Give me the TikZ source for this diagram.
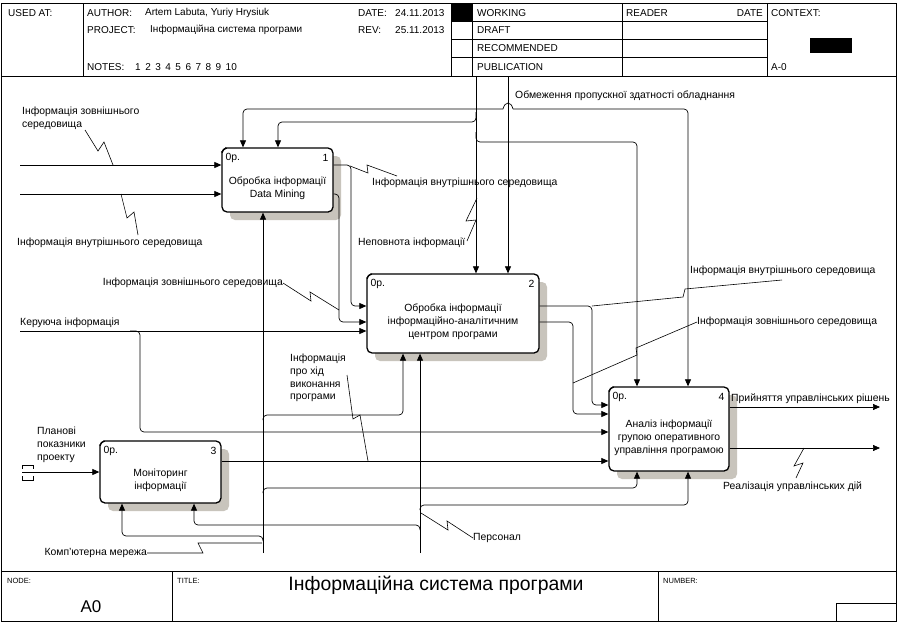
\documentclass[tikz,border=0pt]{standalone}
\usepackage{fontspec}
\setmainfont{Liberation Sans}
\usetikzlibrary{positioning,arrows.meta,shadows}
\definecolor{shade}{RGB}{200,196,188}
\newcommand{\lbl}{\fontsize{10.4}{12.8}\selectfont}
\newcommand{\hdr}{\fontsize{10}{12}\selectfont}
\newcommand{\ftr}{\fontsize{7.5}{9}\selectfont}

\begin{document}
\begin{tikzpicture}[x=1pt,y=-1pt,
  fn/.style={draw,line width=1.3pt,rounded corners=5pt,fill=white,
    general shadow={fill=shade,shadow xshift=8pt,shadow yshift=-8pt}},
  txt/.style={font=\lbl,align=center,inner sep=0pt},
  tag/.style={font=\lbl,inner sep=0pt},
  cell/.style={font=\hdr,anchor=west,inner sep=0pt},
  arr/.style={line width=0.7pt,rounded corners=4pt,-{Triangle[length=7pt,width=6pt]}},
  ln/.style={line width=0.7pt},
  sq/.style={line width=0.6pt}]
\useasboundingbox (0,0) rectangle (897,624);
\fill[white] (0,0) rectangle (897,624);

\draw[line width=0.8pt] (1,3) rectangle (896,621);
\draw[line width=0.8pt] (1,76) -- (896,76) (1,571) -- (896,571);
\draw[ln] (83,3) -- (83,76) (451,3) -- (451,76) (472,3) -- (472,76)
  (622,3) -- (622,76) (767,3) -- (767,76);
\draw[ln] (451,21) -- (767,21) (451,39) -- (767,39) (451,57) -- (767,57);
\fill (451,3) rectangle (472,21);
\fill (810,38) rectangle (852,53);
\draw[ln] (172,571) -- (172,621) (658,571) -- (658,621);
\draw[ln] (836,621) |- (896,603);

\node[cell] (usedat) at (8,13) {USED AT:};
\node[cell] (author) at (87,13) {AUTHOR:};
\node[cell] (authorval) at (145,13) {Artem Labuta, Yuriy Hrysiuk};
\node[cell] (project) at (87,30) {PROJECT:};
\node[cell] (projectval) at (150,30) {Інформаційна система програми};
\node[cell] (notes) at (87,67) {NOTES:};
\node[cell] (notesval) at (135,67) {1\hspace{4.5pt}2\hspace{4.5pt}3\hspace{4.5pt}4\hspace{4.5pt}5\hspace{4.5pt}6\hspace{4.5pt}7\hspace{4.5pt}8\hspace{4.5pt}9\hspace{4.5pt}10};
\node[cell] (datelbl) at (358,13) {DATE:};
\node[cell] (dateval) at (395,13) {24.11.2013};
\node[cell] (revlbl) at (358,30) {REV:};
\node[cell] (revval) at (395,30) {25.11.2013};
\node[cell] (working) at (477,13) {WORKING};
\node[cell] (draft) at (477,30) {DRAFT};
\node[cell] (recomm) at (477,48) {RECOMMENDED};
\node[cell] (publ) at (477,67) {PUBLICATION};
\node[cell] (reader) at (626,13) {READER};
\node[cell,anchor=east] (rdate) at (763,13) {DATE};
\node[cell] (context) at (771,13) {CONTEXT:};
\node[cell] (ctxnode) at (771,67) {A-0};

\node[font=\ftr,anchor=west,inner sep=0pt] (nodelbl) at (7,581) {NODE:};
\node[font=\ftr,anchor=west,inner sep=0pt] (titlelbl) at (177,581) {TITLE:};
\node[font=\ftr,anchor=west,inner sep=0pt] (numlbl) at (663,581) {NUMBER:};
\node[font=\fontsize{19.4}{22}\selectfont,inner sep=0pt] (title) at (436,585) {Інформаційна система програми};
\node[font=\fontsize{17}{19}\selectfont,inner sep=0pt] (nodeid) at (91,607) {A0};

\node[fn,minimum width=111pt,minimum height=64pt] (b1) at (277.5,180) {};
\node[fn,minimum width=172pt,minimum height=79pt] (b2) at (453,313.5) {};
\node[fn,minimum width=121pt,minimum height=62pt] (b3) at (160.5,472) {};
\node[fn,minimum width=120pt,minimum height=84pt] (b4) at (669,429) {};

\node[txt] (t1) at ([yshift=-8pt]b1.center) {Обробка інформації\\Data Mining};
\node[txt] (t2) at ([yshift=-8pt]b2.center) {Обробка інформації\\інформаційно-аналітичним\\центром програми};
\node[txt] (t3) at ([yshift=-8pt]b3.center) {Моніторинг\\інформації};
\node[txt] (t4) at ([yshift=-9pt]b4.center) {Аналіз інформації\\групою оперативного\\управління програмою};
\foreach \b/\n in {b1/1,b2/2,b3/3,b4/4}{
  \node[tag,anchor=west] (\b op) at ([shift={(4pt,-11pt)}]\b.north west) {0р.};
  \node[tag,anchor=east] (\b no) at ([shift={(-5pt,-11pt)}]\b.north east) {\n};
  \draw[line width=1pt] ([yshift=-5pt]\b.north west) -- ([xshift=5pt]\b.north west);
}

\coordinate (inZ) at (20,165);
\coordinate (inV) at (20,194);
\coordinate (inK) at (20,331);
\coordinate (inP) at (22,472);
\coordinate (ctA) at (476,76);
\coordinate (ctB) at (508,76);
\coordinate (mcN) at (263,553);
\coordinate (mcP) at (420,553);
\coordinate (outR) at (880,407);
\coordinate (outD) at (880,448);

\draw[arr] (inZ) -- (b1.west |- inZ);
\draw[arr] (inV) -- (b1.west |- inV);
\draw[arr] (b1.east |- inZ) -- (351,165) -- (351,306) -- (b2.west |- 0,306);
\draw[arr] (b1.east |- inV) -- (339,194) -- (339,322) -- (b2.west |- 0,322);
\draw[arr] (inK) -- (b2.west |- inK);
\draw[arr] (130,331) -- (140,331) -- (140,432) -- (b4.west |- 0,432);
\draw[arr] (ctA) -- (ctA |- b2.north);
\draw[arr] (476,112) -- (476,122) -- (278,122) -- (b1.north -| 278,0);
\draw[arr] (476,132) -- (476,142) -- (637,142) -- (b4.north -| 637,0);
\draw[arr] (ctB) -- (ctB |- b2.north);
\draw[arr] (503,109) -- (243,109) -- (b1.north -| 243,0);
\draw[arr] (513,109) -- (688,109) -- (b4.north -| 688,0);
\draw[ln] (503,109) .. controls (505,101) and (511,101) .. (513,109);
\draw[arr] (b2.east |- 0,306) -- (592,306) -- (592,405) -- (b4.west |- 0,405);
\draw[arr] (b2.east |- 0,322) -- (573,322) -- (573,414) -- (b4.west |- 0,414);
\draw[arr] (inP) -- (b3.west |- inP);
\draw[ln] (22,469) |- (33,465) -- (33,469);
\draw[ln] (22,476) |- (33,480) -- (33,476);
\draw[arr] (b3.east |- 0,461) -- (b4.west |- 0,461);
\draw[arr] (b4.east |- outR) -- (outR);
\draw[arr] (b4.east |- outD) -- (outD);
\draw[arr] (mcN) -- (mcN |- b1.south);
\draw[arr] (263,420) -- (263,415) -- (403,415) -- (b2.south -| 403,0);
\draw[arr] (263,493) -- (263,488) -- (637,488) -- (b4.south -| 637,0);
\draw[arr] (263,541) -- (263,536) -- (122,536) -- (b3.south -| 122,0);
\draw[arr] (mcP) -- (mcP |- b2.south);
\draw[arr] (420,510) -- (420,505) -- (688,505) -- (b4.south -| 688,0);
\draw[arr] (420,530) -- (420,525) -- (194,525) -- (b3.south -| 194,0);

\node[tag,anchor=west,align=left] (lzov1) at (22,118) {Інформація зовнішнього\\середовища};
\draw[sq] (85,130) -- (98,151) -- (104,142) -- (113,165);
\node[tag,anchor=west] (lvn1) at (17,243) {Інформація внутрішнього середовища};
\draw[sq] (138,235) -- (134,212) -- (127,218) -- (121,194);
\node[tag,anchor=west] (lvn2) at (372,183) {Інформація внутрішнього середовища};
\draw[sq] (350,166) -- (368,173) -- (367,165) -- (397,176);
\node[tag,anchor=west] (lnep) at (358,243) {Неповнота інформації};
\draw[sq] (467,241) -- (476,220) -- (466,221) -- (477,198);
\node[tag,anchor=east] (lzov2) at (283,283) {Інформація зовнішнього середовища};
\draw[sq] (lzov2.east) -- (311,301) -- (310,292) -- (339,310);
\node[tag,anchor=west] (lobm) at (515,96) {Обмеження пропускної здатності обладнання};
\node[tag,anchor=west] (lvn3) at (690,271) {Інформація внутрішнього середовища};
\draw[sq] (592,306) -- (683,297) -- (685,289) -- (782,280);
\node[tag,anchor=west] (lzov3) at (697,322) {Інформація зовнішнього середовища};
\draw[sq] (573,383) -- (637,355) -- (636,348) -- (lzov3.west);
\node[tag,anchor=west] (lker) at (20,323) {Керуюча інформація};
\node[tag,anchor=west,align=left] (lhid) at (290,378) {Інформація\\про хід\\виконання\\програми};
\draw[sq] (347,375) -- (353,419) -- (360,415) -- (368,461);
\node[tag,anchor=west,align=left] (lplan) at (37,445) {Планові\\показники\\проекту};
\node[tag,anchor=west] (lprij) at (731,399) {Прийняття управлінських рішень};
\node[tag,anchor=west] (lreal) at (723,487) {Реалізація управлінських дій};
\draw[sq] (804,448) -- (794,466) -- (803,463) -- (796,478);
\node[tag,anchor=west] (lpers) at (473,538) {Персонал};
\draw[sq] (421,513) -- (448,530) -- (447,521) -- (lpers.west);
\node[tag,anchor=east] (lnet) at (147,553) {Комп'ютерна мережа};
\draw[sq] (lnet.east) -- (203,553) -- (198,543) -- (262,543);
\end{tikzpicture}
\end{document}
